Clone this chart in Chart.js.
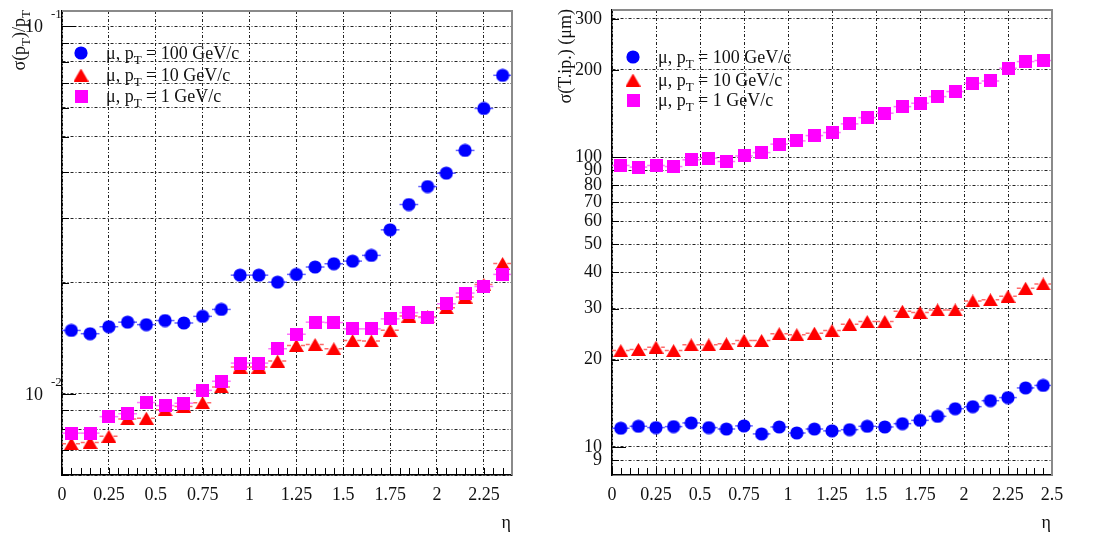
<!DOCTYPE html>
<html>
<head>
<meta charset="utf-8">
<script src="https://cdn.jsdelivr.net/npm/chart.js@4.4.0/dist/chart.umd.min.js"></script>
<style>
  html, body { margin: 0; padding: 0; background: #fff; }
  #wrap { position: relative; width: 1103px; height: 539px; }
  .panel { position: absolute; top: 0; }
</style>
</head>
<body>
<div id="wrap">
  <canvas id="resChart" class="panel" style="left:0" width="550" height="539"></canvas>
  <canvas id="ipChart" class="panel" style="left:550px" width="553" height="539"></canvas>
</div>
<script>
// ---- data ----
const etaRes = [0.05, 0.15, 0.25, 0.35, 0.45, 0.55, 0.65, 0.75, 0.85, 0.95, 1.05, 1.15,
                1.25, 1.35, 1.45, 1.55, 1.65, 1.75, 1.85, 1.95, 2.05, 2.15, 2.25, 2.35];
const resPt100 = [0.01485, 0.01455, 0.0152, 0.01564, 0.0154, 0.0158, 0.01556, 0.01622, 0.01694, 0.0210, 0.0210, 0.0201,
                  0.0211, 0.0221, 0.02256, 0.02293, 0.02377, 0.0279, 0.0327, 0.0366, 0.0398, 0.0459, 0.0597, 0.0735];
const resPt10 = [0.0073, 0.00736, 0.00765, 0.00853, 0.00857, 0.00903, 0.00922, 0.00944, 0.01042, 0.0118, 0.0118, 0.01226,
                 0.01352, 0.0136, 0.01324, 0.01394, 0.0139, 0.01486, 0.01625, 0.01616, 0.01712, 0.0183, 0.0198, 0.0226];
const resPt1 = [0.0078, 0.0078, 0.00865, 0.00881, 0.00945, 0.00927, 0.00941, 0.0102, 0.0108, 0.0121, 0.0121, 0.01324,
                0.0145, 0.01564, 0.0156, 0.0150, 0.0150, 0.01597, 0.0166, 0.0161, 0.01755, 0.01877, 0.01956, 0.0211];

const etaIp = [0.05, 0.15, 0.25, 0.35, 0.45, 0.55, 0.65, 0.75, 0.85, 0.95, 1.05, 1.15, 1.25,
               1.35, 1.45, 1.55, 1.65, 1.75, 1.85, 1.95, 2.05, 2.15, 2.25, 2.35, 2.45];
const ipPt100 = [11.6, 11.78, 11.66, 11.75, 12.1, 11.66, 11.53, 11.82, 11.09, 11.72, 11.17, 11.53, 11.36,
                 11.47, 11.78, 11.72, 12.03, 12.35, 12.75, 13.55, 13.77, 14.44, 14.8, 15.98, 16.3];
const ipPt10 = [21.5, 21.7, 22.1, 21.5, 22.5, 22.5, 22.7, 23.3, 23.3, 24.6, 24.4, 24.7, 25.2,
                26.5, 27.1, 27.1, 29.4, 29.1, 29.7, 29.7, 31.9, 32.2, 33.1, 35.3, 36.5];
const ipPt1 = [93.6, 92.4, 93.6, 92.8, 97.9, 99.2, 96.6, 101, 103.7, 110.9, 113.8, 118.7, 121.6,
               130.3, 136.9, 141.8, 149.4, 153.5, 161.8, 168.4, 179.9, 183.2, 202.7, 213.7, 215.5];
const etaHalfBin = 0.05;

const etaLabelsRes = [0, 0.25, 0.5, 0.75, 1, 1.25, 1.5, 1.75, 2, 2.25];
const etaLabelsIp = [0, 0.25, 0.5, 0.75, 1, 1.25, 1.5, 1.75, 2, 2.25, 2.5];
const resTicks = [0.006, 0.007, 0.008, 0.009, 0.01, 0.02, 0.03, 0.04, 0.05, 0.06, 0.07, 0.08, 0.09, 0.1];
const resPowerLabels = [0.1, 0.01];
const resPowerExps = ['-1', '-2'];
const ipTicks = [9, 10, 20, 30, 40, 50, 60, 70, 80, 90, 100, 200, 300];
const ipTickLabels = ['9', '10', '20', '30', '40', '50', '60', '70', '80', '90', '100', '200', '300'];

const seriesNames = [
  [{ t: 'μ, p' }, { t: 'T', sub: true }, { t: ' = 100 GeV/c' }],
  [{ t: 'μ, p' }, { t: 'T', sub: true }, { t: ' = 10 GeV/c' }],
  [{ t: 'μ, p' }, { t: 'T', sub: true }, { t: ' = 1 GeV/c' }],
];
const seriesColors = ['#0000ff', '#ff0000', '#ff00ff'];
const errColors = ['rgba(70,70,255,0.85)', 'rgba(255,80,80,0.85)', 'rgba(255,90,255,0.85)'];

const FONT = '"Liberation Serif", "DejaVu Serif", serif';
const INK = '#111';

// ROOT-like markers, centred on their bounding box
function markerCanvas(kind, color) {
  const c = document.createElement('canvas');
  const g = c.getContext('2d');
  if (kind === 'circle') {
    c.width = 14; c.height = 14;
    g.fillStyle = color;
    g.beginPath();
    g.arc(7, 7, 6.6, 0, Math.PI * 2);
  } else if (kind === 'triangle') {
    c.width = 15; c.height = 13;
    g.fillStyle = color;
    g.beginPath();
    g.moveTo(7.5, 0); g.lineTo(15, 13); g.lineTo(0, 13); g.closePath();
  } else {
    c.width = 13; c.height = 13;
    g.fillStyle = color;
    g.beginPath();
    g.rect(0, 0, 13, 13);
  }
  g.fill();
  return c;
}
const seriesMarkers = [
  markerCanvas('circle', seriesColors[0]),
  markerCanvas('triangle', seriesColors[1]),
  markerCanvas('square', seriesColors[2]),
];

function drawParts(ctx, parts, x, y, size) {
  let cx = x;
  parts.forEach(p => {
    const fs = (p.sub || p.sup) ? Math.round(size * 0.72) : size;
    ctx.font = fs + 'px ' + FONT;
    const dy = p.sub ? size * 0.3 : p.sup ? -size * 0.45 : 0;
    ctx.fillText(p.t, cx, y + dy);
    cx += ctx.measureText(p.t).width;
  });
  return cx - x;
}
function partsWidth(ctx, parts, size) {
  let w = 0;
  parts.forEach(p => {
    const fs = (p.sub || p.sup) ? Math.round(size * 0.72) : size;
    ctx.font = fs + 'px ' + FONT;
    w += ctx.measureText(p.t).width;
  });
  return w;
}

// frame, inward ticks, error bars, legend and titles
const decorPlugin = {
  id: 'decor',
  beforeDatasetsDraw(chart, args, o) {
    const { ctx, chartArea: a, scales: { x, y } } = chart;
    ctx.save();
    // horizontal error bars (bin width)
    ctx.beginPath();
    ctx.rect(a.left, a.top, a.right - a.left, a.bottom - a.top);
    ctx.clip();
    chart.data.datasets.forEach(ds => {
      ctx.strokeStyle = ds.errColor;
      ctx.lineWidth = 1.5;
      ctx.setLineDash(ds.errDash || []);
      ds.data.forEach(pt => {
        const py = y.getPixelForValue(pt.y);
        ctx.beginPath();
        ctx.moveTo(x.getPixelForValue(pt.x - etaHalfBin), py);
        ctx.lineTo(x.getPixelForValue(pt.x + etaHalfBin), py);
        ctx.stroke();
      });
    });
    ctx.restore();

    ctx.save();
    ctx.strokeStyle = '#000';
    ctx.lineWidth = 1;
    x.ticks.forEach(t => {
      const px = Math.round(x.getPixelForValue(t.value)) + 0.5;
      ctx.beginPath();
      ctx.moveTo(px, a.bottom);
      ctx.lineTo(px, a.bottom - 7);
      ctx.stroke();
    });
    y.ticks.forEach(t => {
      const py = Math.round(y.getPixelForValue(t.value)) + 0.5;
      const len = o.decades.includes(t.value) ? 14 : 7;
      ctx.beginPath();
      ctx.moveTo(a.left, py);
      ctx.lineTo(a.left + len, py);
      ctx.stroke();
    });
    // gray top/right frame
    ctx.strokeStyle = '#8a8a8a';
    ctx.lineWidth = 2;
    ctx.beginPath();
    ctx.moveTo(a.left, a.top);
    ctx.lineTo(a.right, a.top);
    ctx.lineTo(a.right, a.bottom);
    ctx.stroke();
    ctx.restore();
  },
  afterDraw(chart, args, o) {
    const { ctx, chartArea: a, scales: { y } } = chart;
    ctx.save();
    ctx.fillStyle = INK;
    ctx.textBaseline = 'alphabetic';
    ctx.textAlign = 'left';

    // legend
    chart.data.datasets.forEach((ds, i) => {
      const ry = a.top + o.legendRows[i];
      const m = seriesMarkers[i];
      ctx.drawImage(m, a.left + o.legendMarkerX - m.width / 2, ry - m.height / 2);
      drawParts(ctx, seriesNames[i], a.left + o.legendTextX, ry + 6, 18);
    });

    // y title, rotated, ending at the top of the frame
    ctx.save();
    ctx.translate(o.titleX, a.top - 1);
    ctx.rotate(-Math.PI / 2);
    const w = partsWidth(ctx, o.yTitle, 18);
    drawParts(ctx, o.yTitle, -w, 0, 18);
    ctx.restore();

    // x title
    ctx.font = '18px ' + FONT;
    ctx.textAlign = 'right';
    ctx.fillText('η', a.right - 1, 528);

    // power-of-ten labels
    if (o.powers) {
      o.powers.forEach((v, i) => {
        const py = y.getPixelForValue(v);
        ctx.font = '18px ' + FONT;
        ctx.textAlign = 'right';
        ctx.fillText('10', a.left - 19, py + 6);
        ctx.font = '13px ' + FONT;
        ctx.textAlign = 'left';
        ctx.fillText(o.powerExps[i], a.left - 11, py - 8);
      });
    }
    ctx.restore();
  }
};

function makeSets(xs, ysList) {
  return ysList.map((ys, i) => ({
    label: seriesNames[i].map(p => p.t).join(''),
    data: xs.map((x, j) => ({ x, y: ys[j] })),
    showLine: false,
    pointStyle: seriesMarkers[i],
    pointRadius: 7,
    order: 3 - i,
    errColor: errColors[i],
    errDash: i === 1 ? [4, 3] : [],
  }));
}

function isLabel(v, list) {
  return list.find(t => Math.abs(t - v) < 1e-6);
}

function noPad(s) {
  s.paddingTop = 0; s.paddingBottom = 0; s.paddingLeft = 0; s.paddingRight = 0;
}

function makeChart(id, cfg) {
  return new Chart(document.getElementById(id), {
    type: 'scatter',
    data: { datasets: cfg.datasets },
    options: {
      responsive: false,
      animation: false,
      layout: { padding: { top: cfg.top, right: cfg.right, left: 0, bottom: 0 } },
      plugins: {
        legend: { display: false },
        tooltip: { enabled: false },
        decor: cfg.decor,
      },
      scales: {
        x: {
          type: 'linear',
          min: 0,
          max: cfg.xMax,
          afterFit: s => { s.height = 64; noPad(s); },
          grid: {
            drawTicks: false,
            color: c => isLabel(c.tick.value, cfg.xLabels) !== undefined ? '#222' : 'rgba(0,0,0,0)',
            lineWidth: 1,
          },
          border: { display: true, color: '#000', width: 1.5, dash: [3, 2, 1, 2] },
          ticks: {
            stepSize: 0.05,
            autoSkip: false,
            maxRotation: 0,
            padding: 9,
            color: INK,
            font: { family: FONT, size: 18 },
            callback: v => {
              const t = isLabel(v, cfg.xLabels);
              return t === undefined ? '' : String(t);
            },
          },
        },
        y: {
          type: 'logarithmic',
          min: cfg.yMin,
          max: cfg.yMax,
          afterBuildTicks: s => { s.ticks = cfg.yTicks.map(v => ({ value: v })); },
          afterFit: s => { s.width = 62; noPad(s); },
          grid: { drawTicks: false, color: '#222', lineWidth: 1 },
          border: { display: true, color: '#000', width: 1.5, dash: [3, 2, 1, 2] },
          ticks: {
            autoSkip: false,
            padding: 10,
            color: INK,
            font: { family: FONT, size: 18 },
            callback: cfg.yLabel,
          },
        },
      },
    },
    plugins: [decorPlugin],
  });
}

makeChart('resChart', {
  datasets: makeSets(etaRes, [resPt100, resPt10, resPt1]),
  top: 11, right: 38,
  xMax: 2.4, xLabels: etaLabelsRes,
  yMin: 0.006, yMax: 0.11, yTicks: resTicks,
  yLabel: () => '',
  decor: {
    decades: [0.01, 0.1],
    legendRows: [42, 64, 85],
    legendMarkerX: 19,
    legendTextX: 44,
    titleX: 25,
    yTitle: [{ t: 'σ(p' }, { t: 'T', sub: true }, { t: ')/p' }, { t: 'T', sub: true }],
    powers: resPowerLabels,
    powerExps: resPowerExps,
  },
});

makeChart('ipChart', {
  datasets: makeSets(etaIp, [ipPt100, ipPt10, ipPt1]),
  top: 10, right: 51,
  xMax: 2.5, xLabels: etaLabelsIp,
  yMin: 8, yMax: 322, yTicks: ipTicks,
  yLabel: v => {
    const i = ipTicks.findIndex(t => Math.abs(t - v) < 1e-9);
    return i < 0 ? '' : ipTickLabels[i];
  },
  decor: {
    decades: [10, 100],
    legendRows: [47, 70, 90],
    legendMarkerX: 21,
    legendTextX: 46,
    titleX: 21,
    yTitle: [{ t: 'σ(T.ip.) (μm)' }],
  },
});
</script>
</body>
</html>
